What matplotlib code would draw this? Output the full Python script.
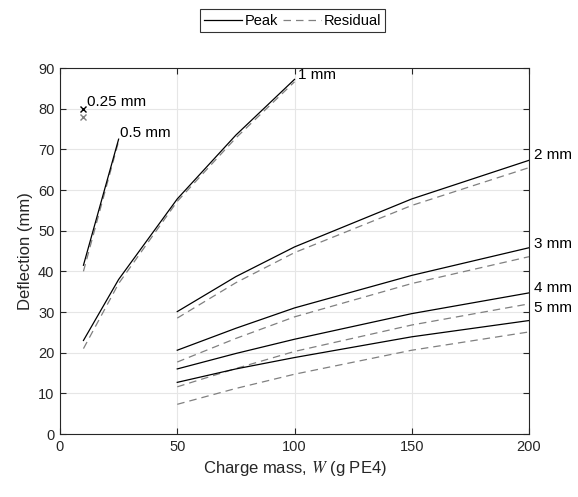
import matplotlib
matplotlib.use("Agg")
import matplotlib.pyplot as plt
from matplotlib.lines import Line2D

plt.rcParams['font.family'] = ['Liberation Sans', 'DejaVu Sans']
plt.rcParams['mathtext.fontset'] = 'stix'

# data
x_025 = [10]
peak_025 = [80]
res_025 = [78]

x_05 = [10, 25]
peak_05 = [41.5, 72.5]
res_05 = [40, 72]

x_1 = [10, 25, 50, 75, 100]
peak_1 = [23, 38, 57.8, 73.5, 87.2]
res_1 = [21, 37, 57.2, 72.8, 86.6]

x_big = [50, 75, 100, 150, 200]
peak_2 = [30.1, 38.7, 46, 57.8, 67.3]
res_2 = [28.5, 37.2, 44.6, 56.2, 65.5]
peak_3 = [20.6, 26, 31, 39, 45.8]
res_3 = [17.7, 23.5, 28.8, 37, 43.6]
peak_4 = [16.0, 19.8, 23.3, 29.6, 34.7]
res_4 = [11.6, 16.1, 20.3, 26.8, 32.0]
peak_5 = [12.7, 16.0, 18.8, 23.9, 27.9]
res_5 = [7.3, 11.2, 14.7, 20.6, 25.1]

labels = ['0.25 mm', '0.5 mm', '1 mm', '2 mm', '3 mm', '4 mm', '5 mm']

fig = plt.figure(figsize=(5.78, 4.97), dpi=100)
ax = fig.add_axes([60 / 578, 63 / 497, 469 / 578, 366 / 497])

pk = dict(color='black', lw=0.9)
rs = dict(color='#808080', lw=0.9, ls=(0, (6, 4)))

ax.plot(x_025, peak_025, 'x', color='black', ms=4, mew=1.0)
ax.plot(x_025, res_025, 'x', color='#808080', ms=4, mew=1.0)
for x, p, r in [(x_05, peak_05, res_05), (x_1, peak_1, res_1),
                (x_big, peak_2, res_2), (x_big, peak_3, res_3),
                (x_big, peak_4, res_4), (x_big, peak_5, res_5)]:
    ax.plot(x, r, **rs)
    ax.plot(x, p, **pk)

fs = 11
ax.text(11.6, 81.6, labels[0], fontsize=fs, va='center', ha='left')
ax.text(25.6, 74.0, labels[1], fontsize=fs, va='center', ha='left')
ax.text(101.6, 88.3, labels[2], fontsize=fs, va='center', ha='left', clip_on=False)
ax.text(202.3, 68.6, labels[3], fontsize=fs, va='center', ha='left', clip_on=False)
ax.text(202.3, 46.7, labels[4], fontsize=fs, va='center', ha='left', clip_on=False)
ax.text(202.3, 35.9, labels[5], fontsize=fs, va='center', ha='left', clip_on=False)
ax.text(202.3, 31.0, labels[6], fontsize=fs, va='center', ha='left', clip_on=False)

ax.set_xlim(0, 200)
ax.set_ylim(0, 90)
ax.set_xticks([0, 50, 100, 150, 200])
ax.set_yticks(range(0, 91, 10))
ax.grid(True, color='#e6e6e6', lw=0.8)
ax.set_axisbelow(True)
ax.tick_params(direction='in', length=4, labelsize=10.5, top=True, right=True,
               colors='#262626', labelcolor='#262626', pad=4)
for s in ax.spines.values():
    s.set_color('#262626')
    s.set_linewidth(0.8)

ax.set_xlabel('Charge mass, $W$ (g PE4)', fontsize=12, color='#262626', labelpad=4)
ax.set_ylabel('Deflection (mm)', fontsize=12, color='#262626', labelpad=4)

handles = [Line2D([], [], **pk), Line2D([], [], **rs)]
leg = fig.legend(handles, ['Peak', 'Residual'], loc='center', bbox_to_anchor=(0.506, 0.958),
                 ncol=2, fontsize=10.5, frameon=True, fancybox=False, edgecolor='black',
                 handlelength=2.6, handletextpad=0.2, columnspacing=0.3, borderpad=0.3)
leg.get_frame().set_linewidth(0.8)

fig.savefig('out.png', dpi=100)
